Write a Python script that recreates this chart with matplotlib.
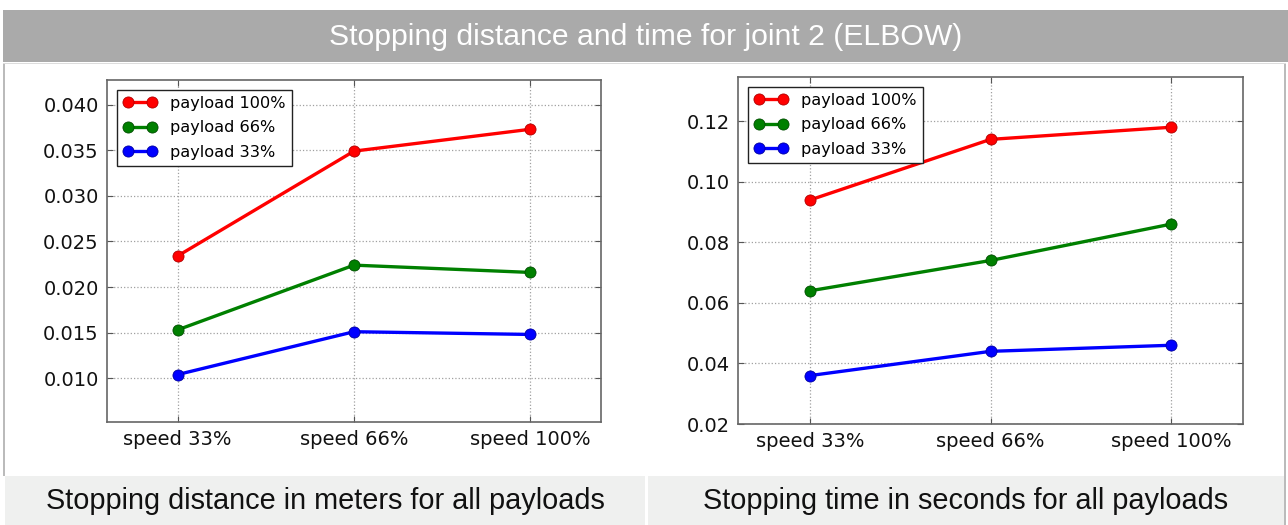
import matplotlib
matplotlib.use('Agg')
import matplotlib.pyplot as plt
from matplotlib.patches import Rectangle

# Dane z wykresu
speeds = ['speed 33%', 'speed 66%', 'speed 100%']
payloads = ['payload 100%', 'payload 66%', 'payload 33%']
colors = ['#ff0000', '#008000', '#0000ff']
edges = ['#b00000', '#004d00', '#0000a0']

dist_100 = [0.0234, 0.0349, 0.0373]
dist_66 = [0.0153, 0.0224, 0.0216]
dist_33 = [0.0104, 0.0151, 0.0148]

time_100 = [0.094, 0.114, 0.118]
time_66 = [0.064, 0.074, 0.086]
time_33 = [0.036, 0.044, 0.046]

W, H = 1288, 525
fig = plt.figure(figsize=(W / 100, H / 100), dpi=100)
fig.patch.set_facecolor('white')


def px_rect(x0, y0, x1, y1, **kw):
    # prostokat w pikselach (y od gory)
    fig.patches.append(Rectangle((x0 / W, 1 - y1 / H), (x1 - x0) / W, (y1 - y0) / H,
                                 transform=fig.transFigure, figure=fig, **kw))


# naglowek
px_rect(3, 10, 1288, 62, facecolor='#aaaaaa', edgecolor='none')
fig.text(645.5 / W, 1 - 37 / H, 'Stopping distance and time for joint 2 (ELBOW)',
         color='white', fontsize=21.7, family='Liberation Sans', ha='center', va='center')

# ramki paneli
px_rect(3, 63, 4.5, 476, facecolor='#bbbbbb', edgecolor='none')
px_rect(1284, 63, 1285.5, 525, facecolor='#bbbbbb', edgecolor='none')
px_rect(3, 63, 1285.5, 64, facecolor='#dddddd', edgecolor='none')

# podpisy na dole
px_rect(4.5, 476, 645, 525, facecolor='#eff0ef', edgecolor='none')
px_rect(648, 476, 1284, 525, facecolor='#eff0ef', edgecolor='none')
fig.text(325.5 / W, 1 - 501 / H, 'Stopping distance in meters for all payloads',
         color='#111111', fontsize=20.8, family='Liberation Sans', ha='center', va='center')
fig.text(966 / W, 1 - 501 / H, 'Stopping time in seconds for all payloads',
         color='#111111', fontsize=20.8, family='Liberation Sans', ha='center', va='center')


def make_axes(box, series, ylim, yticks, fmt):
    x0, y0, x1, y1 = box
    ax = fig.add_axes([x0 / W, 1 - y1 / H, (x1 - x0) / W, (y1 - y0) / H])
    x = list(range(len(speeds)))
    for vals, lab, c, e in zip(series, payloads, colors, edges):
        ax.plot(x, vals, color=c, lw=2.4, marker='o', ms=8, mfc=c, mec=e, mew=0.6, label=lab)
    ax.set_xlim(-0.4, 2.4)
    ax.set_ylim(*ylim)
    ax.set_xticks(x)
    ax.set_xticklabels(speeds)
    ax.set_yticks(yticks)
    ax.set_yticklabels([fmt.format(v) for v in yticks])
    ax.grid(True, linestyle=':', color='#a0a0a0', linewidth=0.9)
    ax.tick_params(direction='in', top=True, right=True, length=4, width=0.8,
                   labelsize=14, colors='#555555', labelcolor='#111111', pad=6)
    for s in ax.spines.values():
        s.set_color('#666666')
        s.set_linewidth(1.2)
    leg = ax.legend(loc='upper left', fontsize=11.6, numpoints=2, fancybox=False,
                    framealpha=1, handlelength=2.1, labelspacing=0.58, borderaxespad=0.6)
    leg.get_frame().set_edgecolor('#222222')
    leg.get_frame().set_linewidth(1.0)
    return ax


make_axes((107, 80, 601, 422), [dist_100, dist_66, dist_33], (0.0052, 0.0427),
          [0.010, 0.015, 0.020, 0.025, 0.030, 0.035, 0.040], '{:.3f}')
make_axes((738, 77, 1243, 424), [time_100, time_66, time_33], (0.02, 0.1346),
          [0.02, 0.04, 0.06, 0.08, 0.10, 0.12], '{:.2f}')

fig.savefig('out.png', dpi=100)
